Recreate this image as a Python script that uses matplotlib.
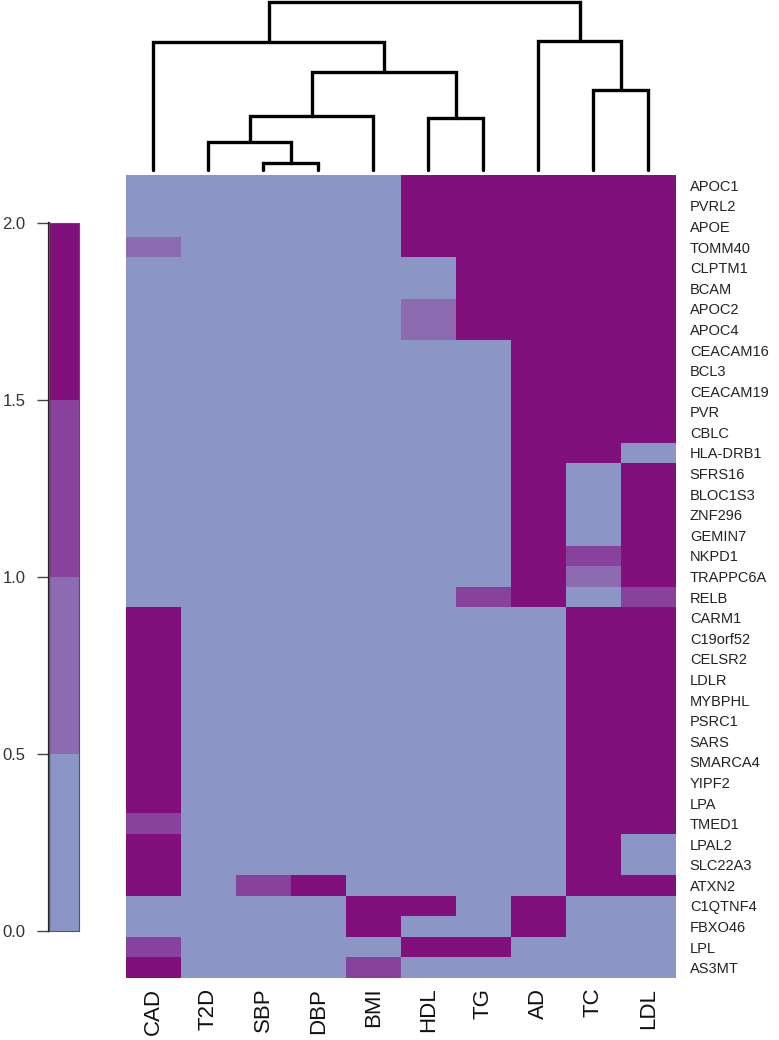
import numpy as np
import matplotlib
matplotlib.use("Agg")
import matplotlib.pyplot as plt
from matplotlib.colors import ListedColormap, BoundaryNorm
from matplotlib.cm import ScalarMappable

plt.rcParams['font.family'] = ['Liberation Sans', 'DejaVu Sans']

# traits (columns) in dendrogram order
traits = ['CAD', 'T2D', 'SBP', 'DBP', 'BMI', 'HDL', 'TG', 'AD', 'TC', 'LDL']

genes = ['APOC1', 'PVRL2', 'APOE', 'TOMM40', 'CLPTM1', 'BCAM', 'APOC2', 'APOC4',
         'CEACAM16', 'BCL3', 'CEACAM19', 'PVR', 'CBLC', 'HLA-DRB1', 'SFRS16',
         'BLOC1S3', 'ZNF296', 'GEMIN7', 'NKPD1', 'TRAPPC6A', 'RELB', 'CARM1',
         'C19orf52', 'CELSR2', 'LDLR', 'MYBPHL', 'PSRC1', 'SARS', 'SMARCA4',
         'YIPF2', 'LPA', 'TMED1', 'LPAL2', 'SLC22A3', 'ATXN2', 'C1QTNF4',
         'FBXO46', 'LPL', 'AS3MT']

# one row per gene, values in trait order above
values = [
    [0,    0, 0,    0, 0,    2,    2,    2, 2,    2],     # APOC1
    [0,    0, 0,    0, 0,    2,    2,    2, 2,    2],     # PVRL2
    [0,    0, 0,    0, 0,    2,    2,    2, 2,    2],     # APOE
    [0.75, 0, 0,    0, 0,    2,    2,    2, 2,    2],     # TOMM40
    [0,    0, 0,    0, 0,    0,    2,    2, 2,    2],     # CLPTM1
    [0,    0, 0,    0, 0,    0,    2,    2, 2,    2],     # BCAM
    [0,    0, 0,    0, 0,    0.75, 2,    2, 2,    2],     # APOC2
    [0,    0, 0,    0, 0,    0.75, 2,    2, 2,    2],     # APOC4
    [0,    0, 0,    0, 0,    0,    0,    2, 2,    2],     # CEACAM16
    [0,    0, 0,    0, 0,    0,    0,    2, 2,    2],     # BCL3
    [0,    0, 0,    0, 0,    0,    0,    2, 2,    2],     # CEACAM19
    [0,    0, 0,    0, 0,    0,    0,    2, 2,    2],     # PVR
    [0,    0, 0,    0, 0,    0,    0,    2, 2,    2],     # CBLC
    [0,    0, 0,    0, 0,    0,    0,    2, 2,    0],     # HLA-DRB1
    [0,    0, 0,    0, 0,    0,    0,    2, 0,    2],     # SFRS16
    [0,    0, 0,    0, 0,    0,    0,    2, 0,    2],     # BLOC1S3
    [0,    0, 0,    0, 0,    0,    0,    2, 0,    2],     # ZNF296
    [0,    0, 0,    0, 0,    0,    0,    2, 0,    2],     # GEMIN7
    [0,    0, 0,    0, 0,    0,    0,    2, 1.25, 2],     # NKPD1
    [0,    0, 0,    0, 0,    0,    0,    2, 0.75, 2],     # TRAPPC6A
    [0,    0, 0,    0, 0,    0,    1.25, 2, 0,    1.25],  # RELB
    [2,    0, 0,    0, 0,    0,    0,    0, 2,    2],     # CARM1
    [2,    0, 0,    0, 0,    0,    0,    0, 2,    2],     # C19orf52
    [2,    0, 0,    0, 0,    0,    0,    0, 2,    2],     # CELSR2
    [2,    0, 0,    0, 0,    0,    0,    0, 2,    2],     # LDLR
    [2,    0, 0,    0, 0,    0,    0,    0, 2,    2],     # MYBPHL
    [2,    0, 0,    0, 0,    0,    0,    0, 2,    2],     # PSRC1
    [2,    0, 0,    0, 0,    0,    0,    0, 2,    2],     # SARS
    [2,    0, 0,    0, 0,    0,    0,    0, 2,    2],     # SMARCA4
    [2,    0, 0,    0, 0,    0,    0,    0, 2,    2],     # YIPF2
    [2,    0, 0,    0, 0,    0,    0,    0, 2,    2],     # LPA
    [1.25, 0, 0,    0, 0,    0,    0,    0, 2,    2],     # TMED1
    [2,    0, 0,    0, 0,    0,    0,    0, 2,    0],     # LPAL2
    [2,    0, 0,    0, 0,    0,    0,    0, 2,    0],     # SLC22A3
    [2,    0, 1.25, 2, 0,    0,    0,    0, 2,    2],     # ATXN2
    [0,    0, 0,    0, 2,    2,    0,    2, 0,    0],     # C1QTNF4
    [0,    0, 0,    0, 2,    0,    0,    2, 0,    0],     # FBXO46
    [1.25, 0, 0,    0, 0,    2,    2,    0, 0,    0],     # LPL
    [2,    0, 0,    0, 1.25, 0,    0,    0, 0,    0],     # AS3MT
]

# column dendrogram: (left child, right child, height); leaves 0-9, merges 10+
merges = [
    (2, 3, 7.3),
    (1, 10, 28.3),
    (11, 4, 54.0),
    (5, 6, 51.7),
    (12, 13, 97.3),
    (0, 14, 127.3),
    (8, 9, 79.0),
    (7, 16, 128.3),
    (15, 17, 166.7),
]

colors = ['#8c96c6', '#8c6bb1', '#88419d', '#810f7c']
bounds = [0, 0.5, 1.0, 1.5, 2.0]
cmap = ListedColormap(colors)
norm = BoundaryNorm(bounds, cmap.N)

fig = plt.figure(figsize=(7.79, 10.4), dpi=100)

# heatmap
ax = fig.add_axes([0.1617, 0.0596, 0.7060, 0.7721])
data = np.array(values)
ax.pcolormesh(np.arange(len(traits) + 1), np.arange(len(genes) + 1), data,
              cmap=cmap, norm=norm)
ax.set_xlim(0, len(traits))
ax.set_ylim(len(genes), 0)
ax.set_xticks(np.arange(len(traits)) + 0.5)
ax.set_xticklabels(traits, rotation=90, fontsize=16, color='#111111')
ax.set_yticks(np.arange(len(genes)) + 0.5)
ax.set_yticklabels(genes, fontsize=10.5, color='#222222')
ax.yaxis.tick_right()
ax.tick_params(axis='x', length=0, pad=7)
ax.tick_params(axis='y', length=0, pad=10)
for s in ax.spines.values():
    s.set_visible(False)

# dendrogram
dax = fig.add_axes([0.1617, 0.8365, 0.7060, 0.1615])
xpos = {i: i + 0.5 for i in range(len(traits))}
hgt = {i: 0.0 for i in range(len(traits))}
for k, (a, b, h) in enumerate(merges):
    node = len(traits) + k
    dax.plot([xpos[a], xpos[a], xpos[b], xpos[b]], [hgt[a], h, h, hgt[b]],
             color='black', lw=2.4, solid_capstyle='round',
             solid_joinstyle='miter', clip_on=False)
    xpos[node] = (xpos[a] + xpos[b]) / 2
    hgt[node] = h
dax.set_xlim(0, len(traits))
dax.set_ylim(0, merges[-1][2])
dax.axis('off')

# colour key
cax = fig.add_axes([0.0629, 0.1051, 0.0385, 0.6808])
cb = fig.colorbar(ScalarMappable(norm=norm, cmap=cmap), cax=cax,
                  ticks=bounds, drawedges=False)
cb.ax.yaxis.set_ticks_position('left')
cb.ax.set_yticklabels(['0.0', '0.5', '1.0', '1.5', '2.0'])
cb.ax.tick_params(axis='y', length=9, width=1, color='#444444',
                  labelsize=12, labelcolor='#333333', pad=8)
cb.outline.set_edgecolor('#555555')
cb.outline.set_linewidth(0.8)
cax.plot([0, 0], [0, 2], color='#222222', lw=1.6, clip_on=False)

fig.savefig('out.png', dpi=100)
